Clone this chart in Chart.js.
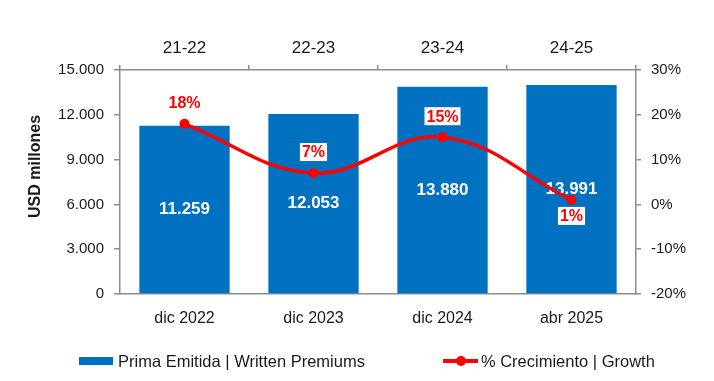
<!DOCTYPE html>
<html>
<head>
<meta charset="utf-8">
<script src="https://cdn.jsdelivr.net/npm/chart.js@4.4.0/dist/chart.umd.min.js"></script>
<style>
  body { margin: 0; background: #fff; }
  #wrap { position: relative; width: 714px; height: 381px; font-family: "Liberation Sans", Arial, sans-serif; }
  #legend { position: absolute; left: 79px; top: 351px; height: 20px; display: flex; align-items: center; font-size: 16.5px; color: #1a1a1a; white-space: nowrap; }
  .item { display: flex; align-items: center; }
  .item + .item { margin-left: 78px; }
  .box { width: 34px; height: 8px; margin-right: 5px; }
  .line { position: relative; width: 35px; height: 4px; margin-right: 3px; }
  .line span { position: absolute; left: 13px; top: -3px; width: 10px; height: 10px; border-radius: 50%; }
</style>
</head>
<body>
<div id="wrap">
  <canvas id="chart" width="714" height="381"></canvas>
  <div id="legend"></div>
</div>
<script>
const periods = ["dic 2022", "dic 2023", "dic 2024", "abr 2025"];
const seasons = ["21-22", "22-23", "23-24", "24-25"];
const premiums = [11259, 12053, 13880, 13991];
const growth = [18, 7, 15, 1];
const growthLabelSide = ["above", "above", "above", "below"];

const BLUE = "#0070C0";
const RED = "#FF0000";
const AXIS = "#8c8c8c";
const TEXT = "#1a1a1a";
const FONT = "'Liberation Sans', Arial, sans-serif";

function fmt(v) {
  return String(v).replace(/\B(?=(\d{3})+(?!\d))/g, ".");
}

// white numbers inside the bars, red % labels on the line
const valueLabels = {
  id: "valueLabels",
  afterDatasetDraw(chart, args) {
    if (args.index !== 0) return;
    const ctx = chart.ctx;
    ctx.save();
    ctx.font = "bold 17px " + FONT;
    ctx.fillStyle = "#fff";
    ctx.textAlign = "center";
    ctx.textBaseline = "middle";
    args.meta.data.forEach((bar, i) => {
      ctx.fillText(fmt(premiums[i]), bar.x, (bar.y + bar.base) / 2);
    });
    ctx.restore();
  },
  afterDatasetsDraw(chart) {
    const ctx = chart.ctx;
    const meta = chart.getDatasetMeta(1);
    ctx.save();
    ctx.font = "bold 16px " + FONT;
    ctx.textAlign = "center";
    ctx.textBaseline = "middle";
    meta.data.forEach((pt, i) => {
      const txt = growth[i] + "%";
      const y = growthLabelSide[i] === "above" ? pt.y - 21 : pt.y + 16;
      const w = ctx.measureText(txt).width;
      ctx.fillStyle = "#fff";
      ctx.fillRect(pt.x - w / 2 - 2, y - 9, w + 4, 18);
      ctx.fillStyle = RED;
      ctx.fillText(txt, pt.x, y + 1);
    });
    ctx.restore();
  }
};

const chart = new Chart(document.getElementById("chart"), {
  type: "bar",
  data: {
    labels: periods,
    datasets: [
      {
        type: "bar",
        label: "Prima Emitida | Written Premiums",
        data: premiums,
        xAxisID: "x",
        yAxisID: "y",
        backgroundColor: BLUE,
        barPercentage: 0.7,
        categoryPercentage: 1.0,
        order: 2,
      },
      {
        type: "line",
        label: "% Crecimiento | Growth",
        data: growth,
        xAxisID: "x",
        yAxisID: "y1",
        borderColor: RED,
        backgroundColor: RED,
        borderWidth: 3.5,
        pointRadius: 5,
        pointBorderWidth: 0,
        pointBackgroundColor: RED,
        tension: 0.4,
        fill: false,
        order: 1,
      },
    ],
  },
  options: {
    responsive: false,
    animation: false,
    layout: { padding: 0 },
    plugins: {
      legend: { display: false },
      tooltip: { enabled: false },
    },
    scales: {
      x: {
        position: "bottom",
        offset: true,
        grid: { display: true, drawOnChartArea: false, drawTicks: false, offset: true },
        border: { display: true, color: AXIS, width: 1.5 },
        ticks: { color: TEXT, font: { family: FONT, size: 16 }, padding: 15 },
        afterFit(s) { s.height = 87; },
      },
      x2: {
        type: "category",
        labels: seasons,
        position: "top",
        offset: true,
        grid: { offset: true, drawOnChartArea: false, drawTicks: true, tickLength: 5, color: AXIS, lineWidth: 1.5 },
        border: { display: true, color: AXIS, width: 1.5 },
        ticks: { color: TEXT, font: { family: FONT, size: 17 }, padding: 6 },
        afterFit(s) { s.height = 70; },
      },
      y: {
        position: "left",
        min: 0,
        max: 15000,
        ticks: { stepSize: 3000, callback: (v) => fmt(v), color: TEXT, font: { family: FONT, size: 15 }, padding: 10 },
        grid: { drawOnChartArea: false, tickLength: 6, color: AXIS, lineWidth: 1.5 },
        border: { color: AXIS, width: 1.5 },
        title: {
          display: true,
          text: "       USD millones",
          color: TEXT,
          font: { family: FONT, size: 16, weight: "bold" },
          padding: { top: 26, bottom: 0 },
        },
        afterFit(s) { s.width = 120; },
      },
      y1: {
        position: "right",
        min: -20,
        max: 30,
        ticks: { stepSize: 10, callback: (v) => v + "%", color: TEXT, font: { family: FONT, size: 15 }, padding: 10 },
        grid: { drawOnChartArea: false, tickLength: 5, color: AXIS, lineWidth: 1.5 },
        border: { color: AXIS, width: 1.5 },
        afterFit(s) { s.width = 78; },
      },
    },
  },
  plugins: [valueLabels],
});

// html legend built from the chart's datasets
const legendEl = document.getElementById("legend");
chart.data.datasets.forEach((ds) => {
  const item = document.createElement("div");
  item.className = "item";
  const sw = document.createElement("div");
  if (ds.type === "line") {
    sw.className = "line";
    sw.style.background = ds.borderColor;
    const dot = document.createElement("span");
    dot.style.background = ds.borderColor;
    sw.appendChild(dot);
  } else {
    sw.className = "box";
    sw.style.background = ds.backgroundColor;
  }
  const txt = document.createElement("span");
  txt.textContent = ds.label;
  item.appendChild(sw);
  item.appendChild(txt);
  legendEl.appendChild(item);
});
</script>
</body>
</html>
